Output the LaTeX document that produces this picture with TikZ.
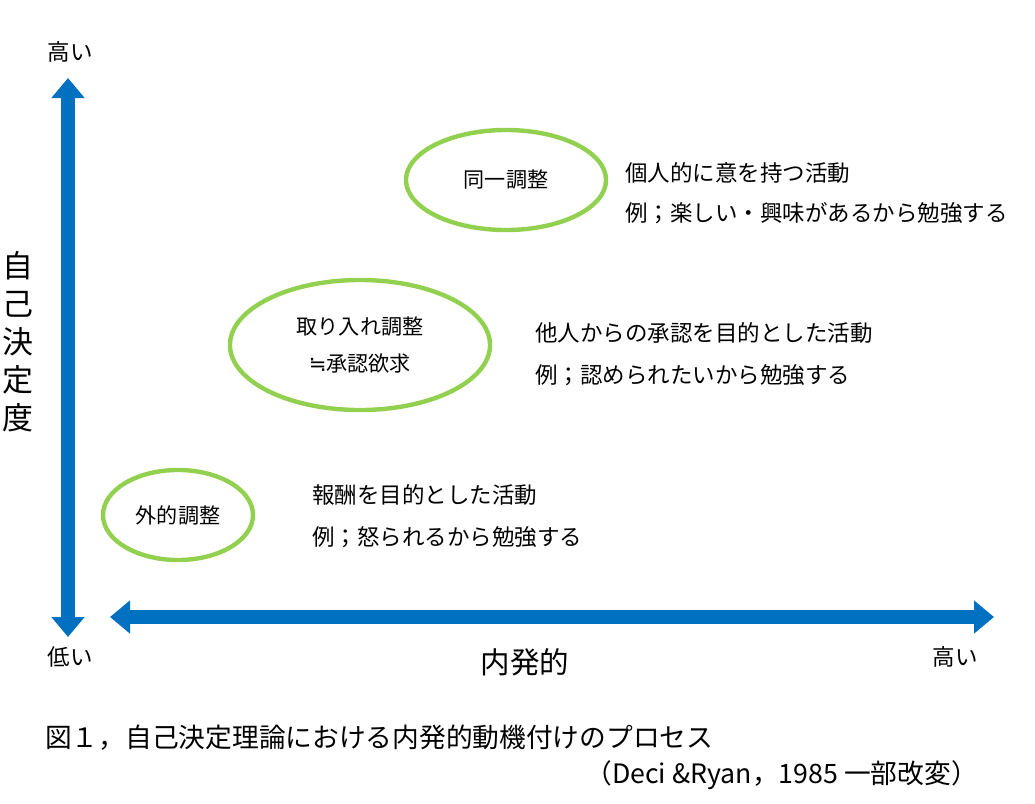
\documentclass[tikz,border=0pt]{standalone}
\usepackage{fontspec}
\setmainfont{Noto Sans CJK JP}
\newfontfamily\symfont{DejaVu Sans}
\usetikzlibrary{arrows.meta}
\definecolor{axisblue}{RGB}{0,112,192}
\definecolor{ringgreen}{RGB}{146,208,80}
\tikzset{
  axis/.style={axisblue, line width=0.35cm, {Triangle[width=0.8cm,length=0.5cm]}-{Triangle[width=0.8cm,length=0.5cm]}},
  ring/.style={draw=ringgreen, line width=1.1mm, ellipse, inner sep=0pt},
  txt/.style={font=\fontsize{16}{19}\selectfont, anchor=west, inner sep=0pt}
}
\usetikzlibrary{shapes.geometric}
\begin{document}
\begin{tikzpicture}[x=0.025cm, y=-0.025cm]
  \useasboundingbox (0, 0) rectangle (1035, 804);
  % axes
  \coordinate (ytop) at (68, 78);
  \coordinate (ybot) at (68, 637);
  \coordinate (xleft) at (110, 617);
  \coordinate (xright) at (994, 617);
  \draw [axis] (ybot) -- (ytop);
  \draw [axis] (xleft) -- (xright);
  \node (hiy) [font=\fontsize{16}{19}\selectfont] at (70, 52) {高い};
  \node (loy) [font=\fontsize{16}{19}\selectfont] at (70, 657) {低い};
  \node (hix) [font=\fontsize{16}{19}\selectfont] at (955, 657) {高い};
  \node (xlab) [font=\fontsize{21}{25}\selectfont] at (525, 662) {内発的};
  \node (ylab) [font=\fontsize{22}{27}\selectfont, align=center] at (18, 342) {自\\己\\決\\定\\度};
  % stages
  \node (ident) [ring, minimum width=5cm, minimum height=2.5cm] at (506, 180) {};
  \node [font=\fontsize{15}{18}\selectfont] at (ident) {同一調整};
  \node (intro) [ring, minimum width=6.5cm, minimum height=3.25cm] at (360, 345) {};
  \node [font=\fontsize{15}{18}\selectfont, align=center] at (intro) {取り入れ調整\\[8pt]{\symfont ≒}承認欲求};
  \node (extern) [ring, minimum width=3.75cm, minimum height=2.25cm] at (178, 515) {};
  \node [font=\fontsize{15}{18}\selectfont] at (extern) {外的調整};
  % descriptions
  \node (d1a) [txt] at (625, 173) {個人的に意を持つ活動};
  \node (d1b) [txt] at (625, 213) {例；楽しい・興味があるから勉強する};
  \node (d2a) [txt] at (535, 333) {他人からの承認を目的とした活動};
  \node (d2b) [txt] at (535, 375) {例；認められたいから勉強する};
  \node (d3a) [txt] at (312, 495) {報酬を目的とした活動};
  \node (d3b) [txt] at (312, 537) {例；怒られるから勉強する};
  % caption
  \node (cap) [txt, font=\fontsize{19}{22}\selectfont] at (45, 738) {図１，自己決定理論における内発的動機付けのプロセス};
  \node (src) [txt, font=\fontsize{19}{22}\selectfont, anchor=east] at (978, 775) {（Deci \&Ryan，1985 一部改変）};
\end{tikzpicture}
\end{document}
